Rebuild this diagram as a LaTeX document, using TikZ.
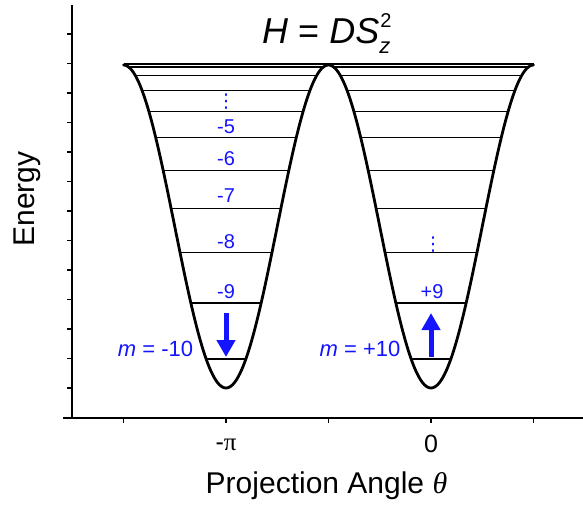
\documentclass[tikz,border=0pt]{standalone}
\usepackage{amsmath}
\usepackage{fontspec}
\setmainfont{Liberation Sans}
\newfontfamily\greekserif{Liberation Serif}
\newfontfamily\symfont{DejaVu Sans}
\usetikzlibrary{arrows.meta}
\definecolor{level-blue}{HTML}{1414FF}

\begin{document}
\begin{tikzpicture}[
    x=1pt, y=-1pt, % pixel-like grid, y grows downwards
    >=latex
  ]

  % Styles for the double-well plot
  \tikzset{
    axisline/.style={line width=1.6pt, black},
    axtick/.style={line width=1.4pt, black},
    potential/.style={line width=2.8pt, line join=round, line cap=round},
    level/.style={line width=1.1pt},
    qlabel/.style={text=level-blue, inner sep=0pt, font=\fontsize{20}{20}\selectfont},
    qdots/.style={text=level-blue, inner sep=0pt, font=\fontsize{19}{19}\selectfont\symfont},
    mlabel/.style={text=level-blue, inner sep=0pt, font=\fontsize{22}{22}\selectfont},
    ticklabel/.style={inner sep=0pt, font=\fontsize{25}{25}\selectfont},
    axlabel/.style={inner sep=0pt, font=\fontsize{30}{30}\selectfont},
    spin/.style={level-blue, line width=5pt, -{Triangle[width=18pt,length=17pt]}}
  }

  \useasboundingbox (0,0) rectangle (583,504);

  % Axes and ticks
  \draw[axisline] (72,5) -- (72,418);
  \draw[axisline] (63,418) -- (583,418);
  \foreach \k in {0,...,12}
    \draw[axtick] (67,{388-29.5*\k}) -- (72,{388-29.5*\k});
  \foreach \t in {123.5,226,328.5,431,533.5}
    \draw[axtick] (\t,418) -- (\t,423);

  % Potential curve
  \draw[potential] plot[domain=123.5:533.5, samples=241, smooth]
    (\x,{226.5+161.5*cos((\x-431)/102.5*180)});

  % Energy levels
  \draw[level] (123.5,64) -- (533.5,64);
  \foreach \m in {1,...,10}{
    \pgfmathsetmacro\ylev{64+2.95*\m*\m}
    \pgfmathsetmacro\dx{acos((\ylev-226.5)/161.5)/180*102.5}
    \draw[level] ({226-\dx},\ylev) -- ({226+\dx},\ylev);
    \draw[level] ({431-\dx},\ylev) -- ({431+\dx},\ylev);
  }

  % Quantum numbers, left well
  \node[qdots] (dotsL) at (226,102) {⋮};
  \node[qlabel] (mL5) at (226,127) {-5};
  \node[qlabel] (mL6) at (226,159) {-6};
  \node[qlabel] (mL7) at (226,196) {-7};
  \node[qlabel] (mL8) at (226,242) {-8};
  \node[qlabel] (mL9) at (226,292) {-9};
  \node[mlabel] (mL10) at (155.5,349) {\textit{m} = -10};

  % Quantum numbers, right well
  \node[qdots] (dotsR) at (433,245) {⋮};
  \node[qlabel] (mR9) at (432,292) {+9};
  \node[mlabel] (mR10) at (360,349) {\textit{m} = +10};

  % Spin arrows
  \coordinate (dnTail) at (226,313);
  \coordinate (dnHead) at (226,357);
  \coordinate (upTail) at (431,357);
  \coordinate (upHead) at (431,313);
  \draw[spin] (dnTail) -- (dnHead);
  \draw[spin] (upTail) -- (upHead);

  % Title and axis labels
  \node[inner sep=0pt, anchor=base west, font=\fontsize{36}{36}\selectfont] (title) at (262,43)
    {\textit{H} = \textit{DS}\makebox[0pt][l]{\kern1pt\raisebox{16pt}{\fontsize{20}{20}\selectfont 2}}\raisebox{-10pt}{\fontsize{22}{22}\selectfont\itshape z}};
  \node[ticklabel, anchor=base] (tkpi) at (226,450) {-{\greekserif π}};
  \node[ticklabel, anchor=base] (tkzero) at (431,452) {0};
  \node[axlabel, rotate=90, anchor=base] (ylab) at (34,199) {Energy};
  \node[axlabel, anchor=base] (xlab) at (326.5,493) {Projection Angle {\greekserif\itshape θ}};

\end{tikzpicture}
\end{document}
